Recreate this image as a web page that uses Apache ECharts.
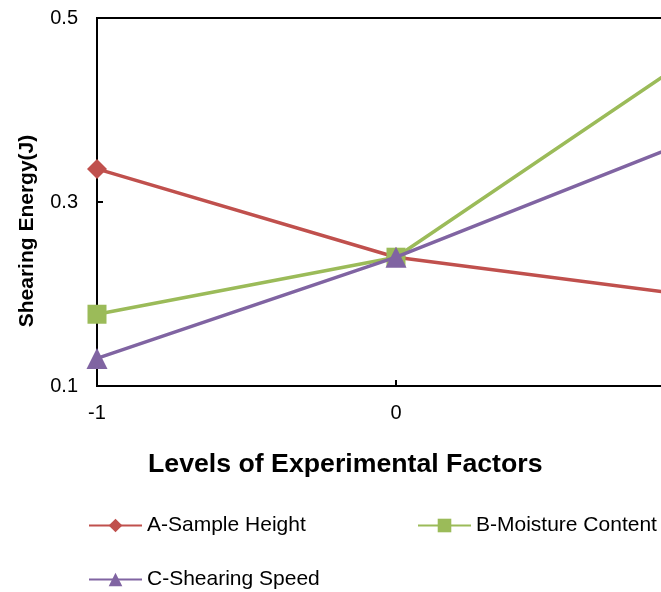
<!DOCTYPE html>
<html>
<head>
<meta charset="utf-8">
<script src="https://cdn.jsdelivr.net/npm/echarts@6/dist/echarts.min.js"></script>
<style>html,body{margin:0;padding:0;background:#fff;}#c{width:661px;height:592px;}</style>
</head>
<body>
<div id="c"></div>
<script>
var levels = [-1, 0, 1];
var sampleHeight = [0.336, 0.240, 0.198];
var moistureContent = [0.178, 0.240, 0.460];
var shearingSpeed = [0.130, 0.240, 0.369];
var seriesNames = ['A-Sample Height', 'B-Moisture Content', 'C-Shearing Speed'];
var yTicks = [0.1, 0.3, 0.5];
var xTitle = 'Levels of Experimental Factors';
var yTitle = 'Shearing Energy(J)';

var FONT = 'Liberation Sans, Arial, sans-serif';
function pts(vals){ return levels.map(function(x,i){ return [x, vals[i]]; }); }

var chart = echarts.init(document.getElementById('c'));
var legendBase = {
  itemWidth: 53, itemHeight: 17, itemGap: 0, padding: 0,
  textStyle: {fontSize: 21, color: '#000', fontFamily: FONT}
};
chart.setOption({
  animation: false,
  backgroundColor: '#fff',
  textStyle: {fontFamily: FONT},
  grid: {left: 97, top: 18, width: 598, height: 368, outerBoundsMode: 'none', containLabel: false,
    show: true, borderColor: '#000', borderWidth: 2, backgroundColor: 'transparent'},
  xAxis: {
    type: 'value', min: -1, max: 1, interval: 1,
    axisLine: {onZero: false, lineStyle: {color: '#000', width: 2}},
    axisTick: {inside: false, length: -6, lineStyle: {color: '#000', width: 2}},
    axisLabel: {fontSize: 20, color: '#000', fontFamily: FONT, margin: 17},
    splitLine: {show: false}
  },
  yAxis: {
    type: 'value', min: 0.1, max: 0.5, interval: 0.1,
    axisLine: {show: true, onZero: false, lineStyle: {color: '#000', width: 2}},
    axisTick: {show: true, inside: false, length: -6, customValues: yTicks, lineStyle: {color: '#000', width: 2}},
    axisLabel: {fontSize: 20, color: '#000', fontFamily: FONT, margin: 19, customValues: yTicks,
      formatter: function(v){ return v.toFixed(1); }},
    splitLine: {show: false}
  },
  legend: [
    Object.assign({data: [seriesNames[0]], left: 88, top: 515}, legendBase),
    Object.assign({data: [seriesNames[1]], left: 417, top: 515}, legendBase),
    Object.assign({data: [seriesNames[2]], left: 88, top: 569}, legendBase)
  ],
  graphic: [
    {type: 'text', left: 148, top: 451, style: {text: xTitle, font: 'bold 26.7px ' + FONT, fill: '#000'}},
    {type: 'text', x: 27, y: 231, rotation: Math.PI/2,
      style: {text: yTitle, font: 'bold 21px ' + FONT, fill: '#000', align: 'center', verticalAlign: 'middle'}}
  ],
  series: [
    {name: seriesNames[0], type: 'line', data: pts(sampleHeight), symbol: 'diamond', symbolSize: 20,
      itemStyle: {color: '#C0504D'}, lineStyle: {color: '#C0504D', width: 3.5}, z: 2},
    {name: seriesNames[1], type: 'line', data: pts(moistureContent), symbol: 'rect', symbolSize: 19,
      itemStyle: {color: '#9BBB59'}, lineStyle: {color: '#9BBB59', width: 3.5}, z: 3},
    {name: seriesNames[2], type: 'line', data: pts(shearingSpeed), symbol: 'triangle', symbolSize: 21,
      itemStyle: {color: '#8064A2'}, lineStyle: {color: '#8064A2', width: 3.5}, z: 4}
  ]
});
</script>
</body>
</html>
